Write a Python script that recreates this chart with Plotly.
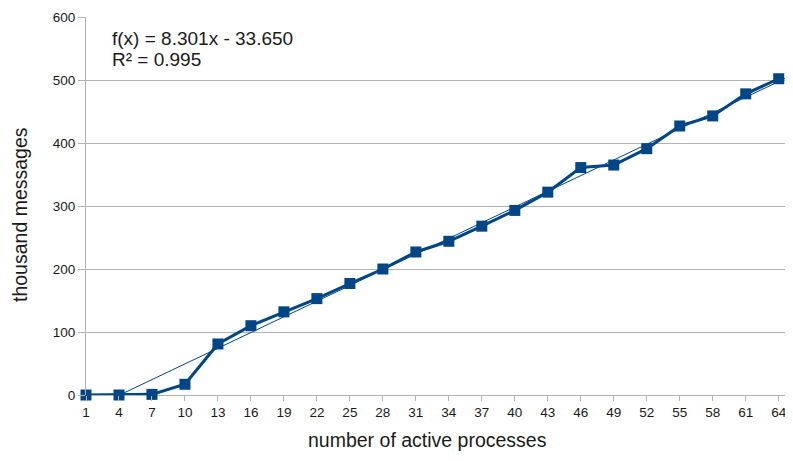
import plotly.graph_objects as go

processes = [1, 4, 7, 10, 13, 16, 19, 22, 25, 28, 31, 34, 37, 40, 43, 46, 49, 52, 55, 58, 61, 64]
messages = [0, 0, 1, 17, 81, 110, 132, 153, 177, 200, 227, 244, 268, 293, 322, 361, 365, 391, 427, 443, 478, 502]
slope = 8.301
intercept = -33.650
trend_x = [1, 66]
y_ticks = [0, 100, 200, 300, 400, 500, 600]

color = "#004586"
grid = "#b3b3b3"
font = "Liberation Sans, Arial, sans-serif"
txt = "#1a1a1a"

fig = go.Figure()
fig.add_trace(go.Scatter(
    x=trend_x, y=[slope * v + intercept for v in trend_x],
    mode="lines", line=dict(color=color, width=1), hoverinfo="skip"))
fig.add_trace(go.Scatter(
    x=processes, y=messages, mode="lines+markers",
    line=dict(color=color, width=3),
    marker=dict(symbol="square", size=11, color=color),
    cliponaxis=False))

W, H = 707, 378  # plot area size in px

def px(xp, yp):
    return (xp - 86) / W, (395 - yp) / H

# page body has an 8px default margin: offset compensated in sizes/margins
fx, fy = px(110, 38)
rx, ry = px(110, 60)
tx, ty = px(427, 440)
yx, yy = px(20, 215)

fig.update_layout(
    width=785, height=453,
    margin=dict(l=78, r=0, t=9, b=66),
    paper_bgcolor="white", plot_bgcolor="white",
    showlegend=False,
    font=dict(family=font, color=txt),
    xaxis=dict(range=[1, 65.3], tickmode="array", tickvals=processes,
               ticktext=[str(p) for p in processes],
               showgrid=False, zeroline=False, showline=False,
               ticks="outside", ticklen=5, tickcolor=grid,
               tickfont=dict(size=13.5, family=font, color=txt)),
    yaxis=dict(range=[0, 600], tickvals=y_ticks,
               showgrid=True, gridcolor=grid, gridwidth=1,
               zeroline=True, zerolinecolor=grid, zerolinewidth=1,
               showline=True, linecolor=grid, linewidth=1,
               ticks="outside", ticklen=7, tickcolor=grid,
               tickfont=dict(size=13.5, family=font, color=txt)),
    annotations=[
        dict(text="f(x) = 8.301x - 33.650", xref="paper", yref="paper",
             x=fx, y=fy, xanchor="left", yanchor="middle", showarrow=False,
             font=dict(size=19, family=font, color=txt)),
        dict(text="R² = 0.995", xref="paper", yref="paper",
             x=rx, y=ry, xanchor="left", yanchor="middle", showarrow=False,
             font=dict(size=19, family=font, color=txt)),
        dict(text="number of active processes", xref="paper", yref="paper",
             x=tx, y=ty, xanchor="center", yanchor="middle",
             showarrow=False, font=dict(size=19.5, family=font, color=txt)),
        dict(text="thousand messages", xref="paper", yref="paper", textangle=-90,
             x=yx, y=yy, xanchor="center", yanchor="middle",
             showarrow=False, font=dict(size=19.5, family=font, color=txt)),
    ],
)

fig.write_html("out.html")
